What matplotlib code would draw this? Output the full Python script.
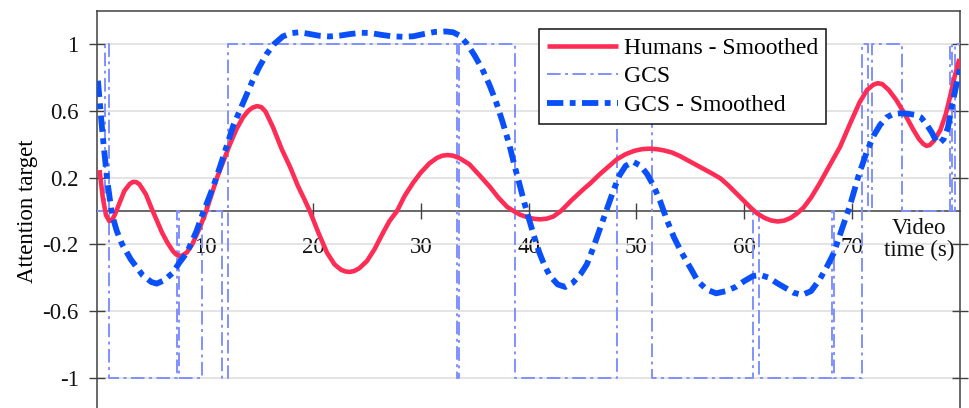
import matplotlib
matplotlib.use("Agg")
import matplotlib.pyplot as plt

plt.rcParams['font.family'] = ['Liberation Serif', 'DejaVu Serif']
plt.rcParams['axes.unicode_minus'] = False

# ---- data ----
humans_t = [0.2, 0.5, 0.8, 1.1, 1.35, 1.6, 2.0, 2.5, 3.0, 3.3, 3.6, 3.9, 4.5, 5.0, 5.5, 6.0,
            6.5, 7.0, 7.3, 7.6, 7.9, 8.3, 8.8, 9.5, 10.1, 10.6, 11.1, 11.7, 12.3, 12.9,
            13.5, 14.0, 14.4, 14.8, 15.2, 15.6, 16.3, 17.1, 17.9, 18.6, 19.2, 19.7, 20.5,
            21.3, 22.0, 22.6, 23.0, 23.4, 23.8, 24.3, 25.0, 25.7, 26.5, 27.1, 27.8, 28.5,
            29.3, 30.0, 30.8, 31.5, 32.0, 32.5, 33.0, 33.6, 34.5, 35.5, 36.4, 37.2, 38.0,
            38.6, 39.2, 40.0, 40.6, 41.1, 41.7, 42.3, 43.0, 44.0, 45.0, 45.8, 46.6, 47.4,
            48.2, 49.0, 49.8, 50.5, 51.2, 51.9, 52.6, 53.3, 54.0, 55.0, 56.0, 57.0, 57.8,
            58.5, 59.2, 59.9, 60.6, 61.2, 61.9, 62.5, 63.1, 63.7, 64.3, 64.9, 65.5, 66.2,
            67.0, 67.9, 68.9, 69.8, 70.7, 71.4, 72.0, 72.4, 72.8, 73.4, 74.1, 74.9, 75.7,
            76.2, 76.6, 76.9, 77.2, 77.6, 78.2, 78.7, 79.1, 79.5, 79.95]
humans_v = [0.245, 0.08, -0.025, -0.06, -0.055, -0.025, 0.04, 0.12, 0.162, 0.174, 0.173,
            0.16, 0.10, 0.02, -0.055, -0.13, -0.19, -0.24, -0.26, -0.27, -0.266, -0.248,
            -0.20, -0.10, 0.0, 0.10, 0.20, 0.30, 0.40, 0.49, 0.56, 0.60, 0.619, 0.628,
            0.622, 0.595, 0.50, 0.37, 0.26, 0.15, 0.07, 0.0, -0.13, -0.25, -0.32, -0.352,
            -0.362, -0.365, -0.36, -0.343, -0.30, -0.23, -0.13, -0.06, 0.0, 0.09, 0.17,
            0.23, 0.285, 0.318, 0.331, 0.335, 0.331, 0.316, 0.28, 0.21, 0.145, 0.08, 0.025,
            0.0, -0.022, -0.04, -0.048, -0.05, -0.046, -0.033, 0.0, 0.065, 0.125, 0.17,
            0.22, 0.265, 0.31, 0.34, 0.36, 0.37, 0.373, 0.37, 0.362, 0.35, 0.33, 0.295,
            0.26, 0.225, 0.195, 0.155, 0.11, 0.065, 0.02, -0.015, -0.042, -0.057, -0.063,
            -0.058, -0.042, -0.015, 0.02, 0.08, 0.165, 0.27, 0.385, 0.52, 0.65, 0.725,
            0.757, 0.765, 0.76, 0.725, 0.665, 0.58, 0.485, 0.432, 0.402, 0.39, 0.394, 0.42,
            0.485, 0.58, 0.685, 0.80, 0.91]

gcs_t = [0, 0.68, 1.10, 7.41, 7.60, 9.68, 11.53, 12.14, 33.33, 33.57, 38.74, 48.17, 51.47,
         60.84, 61.37, 68.17, 68.30, 70.90, 71.51, 71.82, 74.61, 79.09, 79.30, 79.55, 80.0]
gcs_v = [0, 1, -1, 0, -1, 0, -1, 1, -1, 1, -1, 1, -1, 0, -1, 0, -1, 1, 0, 1, 0, 1, 0, 1, 1]

gcs_s_t = [0.05, 0.45, 0.9, 1.35, 1.8, 2.3, 3.1, 4.2, 5.0, 5.5, 6.2, 7.0, 7.6, 8.3, 9.2,
           9.75, 10.75, 11.4, 12.0, 12.6, 13.2, 13.8, 14.4, 15.0, 15.7, 16.4, 17.2, 18.0,
           18.7, 19.5, 20.5, 21.5, 22.5, 23.5, 24.5, 25.3, 26.3, 27.3, 28.3, 29.3, 30.3,
           31.3, 32.3, 33.0, 33.6, 34.3, 35.0, 35.7, 36.4, 37.0, 37.6, 38.2, 38.7, 39.2,
           39.6, 40.0, 40.5, 41.0, 41.5, 42.0, 42.7, 43.4, 44.1, 44.8, 45.4, 46.0, 46.6,
           47.2, 47.8, 48.4, 49.0, 49.7, 50.4, 51.0, 51.6, 52.2, 52.8, 53.5, 54.2, 55.0,
           55.7, 56.5, 57.4, 58.3, 59.2, 60.0, 60.8, 61.5, 62.3, 63.0, 63.8, 64.6, 65.4,
           66.2, 67.0, 67.7, 68.3, 69.0, 69.8, 70.6, 71.4, 72.0, 72.6, 73.2, 73.8, 74.5,
           75.2, 75.9, 76.4, 76.9, 77.4, 77.8, 78.1, 78.5, 78.9, 79.3, 79.7, 80.0]
gcs_s_v = [0.78, 0.48, 0.19, -0.02, -0.12, -0.20, -0.29, -0.385, -0.425, -0.435, -0.415,
           -0.37, -0.31, -0.25, -0.12, -0.02, 0.146, 0.27, 0.39, 0.51, 0.60, 0.69, 0.78,
           0.86, 0.94, 1.0, 1.045, 1.065, 1.07, 1.062, 1.05, 1.045, 1.05, 1.06, 1.067,
           1.066, 1.055, 1.046, 1.043, 1.046, 1.06, 1.072, 1.075, 1.07, 1.05, 1.0, 0.93,
           0.85, 0.75, 0.65, 0.53, 0.40, 0.27, 0.15, 0.05, -0.04, -0.15, -0.25, -0.33,
           -0.39, -0.44, -0.455, -0.43, -0.38, -0.32, -0.22, -0.11, 0.0, 0.11, 0.21, 0.27,
           0.295, 0.27, 0.22, 0.15, 0.06, -0.05, -0.16, -0.25, -0.34, -0.42, -0.47,
           -0.493, -0.48, -0.455, -0.42, -0.39, -0.383, -0.40, -0.43, -0.46, -0.49, -0.502,
           -0.48, -0.41, -0.33, -0.253, -0.12, 0.03, 0.21, 0.36, 0.45, 0.515, 0.56, 0.58,
           0.585, 0.582, 0.575, 0.56, 0.52, 0.47, 0.42, 0.405, 0.43, 0.50, 0.64, 0.76, 0.85]

y_ticks = [1, 0.6, 0.2, -0.2, -0.6, -1]
y_tick_labels = ['1', '0.6', '0.2', '-0.2', '-0.6', '-1']
x_ticks = [10, 20, 30, 40, 50, 60, 70]
x_tick_labels = ['10', '20', '30', '40', '50', '60', '70']

FS = 16.5
RED = '#FF2D55'
BLUE = '#0A50FA'
LIGHT = '#8090FF'
AX = '#404040'

fig = plt.figure(figsize=(9.7, 4.08), dpi=100)
ax = fig.add_axes([0.1004, -0.0083, 0.8891, 0.9824])
ax.set_xlim(0, 80)
ax.set_ylim(-1.2, 1.2)

for s in ['left', 'right', 'top', 'bottom']:
    ax.spines[s].set_color(AX)
    ax.spines[s].set_linewidth(1.1)
ax.spines['bottom'].set_position(('data', 0))

ax.set_yticks(y_ticks)
ax.set_yticklabels(y_tick_labels)
ax.set_xticks(x_ticks)
ax.set_xticklabels(x_tick_labels)
ax.grid(axis='y', color='#DDDDDD', linewidth=1.1, zorder=0)
ax.set_axisbelow(True)

ax.tick_params(axis='y', direction='inout', length=12, width=1.0, color=AX,
               right=True, labelright=False, pad=7.5, labelcolor='#111111',
               labelsize=FS)
ax.tick_params(axis='x', direction='inout', length=12, width=1.0, color=AX,
               top=False, pad=12.5, labelcolor='#111111', labelsize=FS)

l_gcs, = ax.step(gcs_t, gcs_v, where='post', color=LIGHT, linewidth=1.4,
                 linestyle=(0, (7.0, 2.3, 1.5, 2.3)), zorder=2.6, label='GCS')
l_hum, = ax.plot(humans_t, humans_v, color=RED, linewidth=3.3, zorder=2.7,
                 solid_capstyle='butt', solid_joinstyle='round',
                 label='Humans - Smoothed')
l_gs, = ax.plot(gcs_s_t, gcs_s_v, color=BLUE, linewidth=4.2, zorder=2.8,
                linestyle=(0, (2.8, 1.1, 1.0, 1.1)), label='GCS - Smoothed')

ax.set_ylabel('Attention target', fontsize=FS)
ax.yaxis.set_label_coords(-0.069, 0.5)

ax.text(76.2, -0.17, 'Video\ntime (s)', fontsize=FS, ha='center', va='center',
        linespacing=1.05, color='#111111')

leg = ax.legend(handles=[l_hum, l_gcs, l_gs], loc='upper left',
                bbox_to_anchor=(0.512, 0.954), fontsize=FS + 0.5, frameon=True,
                fancybox=False, framealpha=1.0, edgecolor='#111111',
                borderpad=0.35, labelspacing=0.3, handletextpad=0.25,
                handlelength=3.0, borderaxespad=0.0)
leg.get_frame().set_linewidth(1.1)
leg.set_zorder(5)

fig.savefig('out.png', dpi=100)
